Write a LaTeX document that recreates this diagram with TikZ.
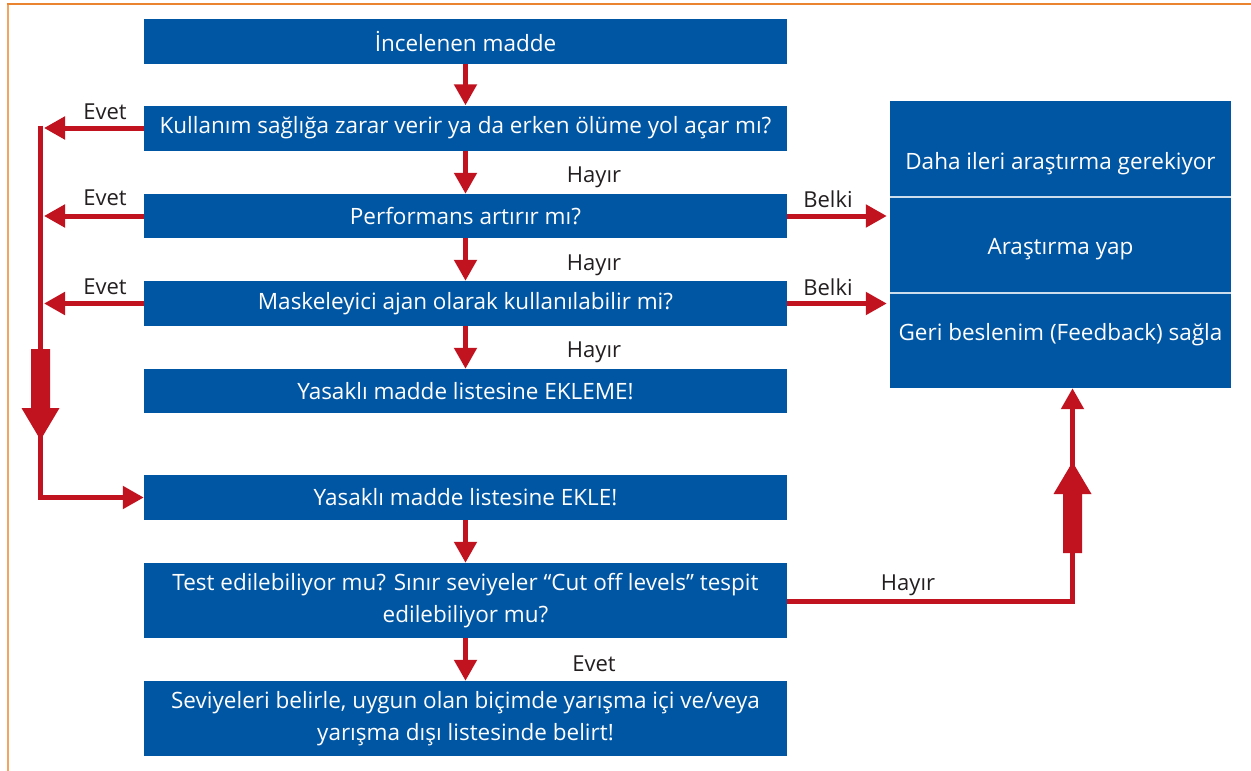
\documentclass[tikz,border=0pt]{standalone}
\usepackage{fontspec}
\setmainfont{Open Sans}
\usetikzlibrary{arrows.meta}
\definecolor{boxblue}{HTML}{0056A3}
\definecolor{arrred}{HTML}{C1121F}
\definecolor{frametop}{HTML}{EB8430}
\definecolor{frameleft}{HTML}{F2A560}
\definecolor{lbltext}{HTML}{231F20}
\begin{document}
\begin{tikzpicture}[x=1pt,y=-1pt,
  box/.style={fill=boxblue,text=white,minimum width=643pt,minimum height=45pt,inner sep=0pt,align=center,font=\fontsize{22.5}{32.5}\selectfont},
  rtext/.style={text=white,inner sep=0pt,font=\fontsize{22.5}{26}\selectfont},
  lbl/.style={text=lbltext,inner sep=0pt,font=\fontsize{22}{26}\selectfont},
  flow/.style={draw=arrred,line width=5pt,-{Triangle[width=22pt,length=21pt]}},
  bigarrow/.style={fill=arrred},
  sep/.style={draw=white!80!boxblue,line width=1.2pt}]
\useasboundingbox (0,0) rectangle (1251,771);
% frame
\draw[frameleft,line width=2pt] (7.5,771) -- (7.5,3.5);
\draw[frametop,line width=2pt] (6.5,3.5) -- (1251,3.5);
% main boxes
\node[box] (b1) at (465.5,41) {İncelenen madde};
\node[box] (b2) at (465.5,128) {Kullanım sağlığa zarar verir ya da erken ölüme yol açar mı?};
\node[box,minimum height=44pt] (b3) at (465.5,216) {Performans artırır mı?};
\node[box] (b4) at (465.5,303.5) {Maskeleyici ajan olarak kullanılabilir mi?};
\node[box,minimum height=44pt] (b5) at (465.5,391) {Yasaklı madde listesine EKLEME!};
\node[box] (b6) at (465.5,497.5) {Yasaklı madde listesine EKLE!};
\node[box,minimum height=75pt] (b7) at (465.5,600.5) {Test edilebiliyor mu? Sınır seviyeler “Cut off levels” tespit\\edilebiliyor mu?};
\node[box,minimum height=75pt] (b8) at (465.5,718.5) {Seviyeleri belirle, uygun olan biçimde yarışma içi ve/veya\\yarışma dışı listesinde belirt!};
% right box
\node[fill=boxblue,minimum width=341pt,minimum height=287pt,inner sep=0pt] (rb) at (1060.5,244.5) {};
\coordinate (s1) at (0,197);
\coordinate (s2) at (0,293);
\draw[sep] (rb.west |- s1) -- (rb.east |- s1);
\draw[sep] (rb.west |- s2) -- (rb.east |- s2);
\node[rtext] (t1) at (1060.5,163.5) {Daha ileri araştırma gerekiyor};
\node[rtext] (t2) at (1060.5,249.5) {Araştırma yap};
\node[rtext] (t3) at (1060.5,334.5) {Geri beslenim (Feedback) sağla};
% down arrows
\draw[flow] (b1) -- (b2);
\draw[flow] (b2) -- (b3);
\draw[flow] (b3) -- (b4);
\draw[flow] (b4) -- (b5);
\draw[flow] (b6) -- (b7);
\draw[flow] (b7) -- (b8);
% Evet arrows to the left
\coordinate (e2) at (44,128);
\coordinate (e3) at (44,216);
\coordinate (e4) at (44,303.5);
\draw[flow] (b2.west) -- (e2);
\draw[flow] (b3.west) -- (e3);
\draw[flow] (b4.west) -- (e4);
\coordinate (vtop) at (40.5,125.5);
\coordinate (vbot) at (40.5,497.5);
\draw[flow] (vtop) -- (vbot) -- (b6.west);
\fill[bigarrow] (31,349) -- (50,349) -- (50,408) -- (59.5,408) -- (40.5,440) -- (21.5,408) -- (31,408) -- cycle;
% Belki arrows
\draw[flow,shorten >=3pt] (b3.east) -- (b3.east -| rb.west);
\draw[flow,shorten >=3pt] (b4.east) -- (b4.east -| rb.west);
% Hayir to the right box
\coordinate (rc) at (1072.5,601);
\draw[flow] (b7.east |- rc) -- (rc) -- (rc |- rb.south);
\fill[bigarrow] (1063,553) -- (1082,553) -- (1082,494) -- (1091.5,494) -- (1072.5,462) -- (1053.5,494) -- (1063,494) -- cycle;
% labels
\node[lbl] (l1) at (105,112) {Evet};
\node[lbl] (l2) at (105,198) {Evet};
\node[lbl] (l3) at (105,287) {Evet};
\node[lbl] (l4) at (594,177) {Hayır};
\node[lbl] (l5) at (594,265) {Hayır};
\node[lbl] (l6) at (594,352) {Hayır};
\node[lbl] (l7) at (828,199) {Belki};
\node[lbl] (l8) at (828,287) {Belki};
\node[lbl] (l9) at (908,585) {Hayır};
\node[lbl] (l10) at (594,664) {Evet};
\end{tikzpicture}
\end{document}
